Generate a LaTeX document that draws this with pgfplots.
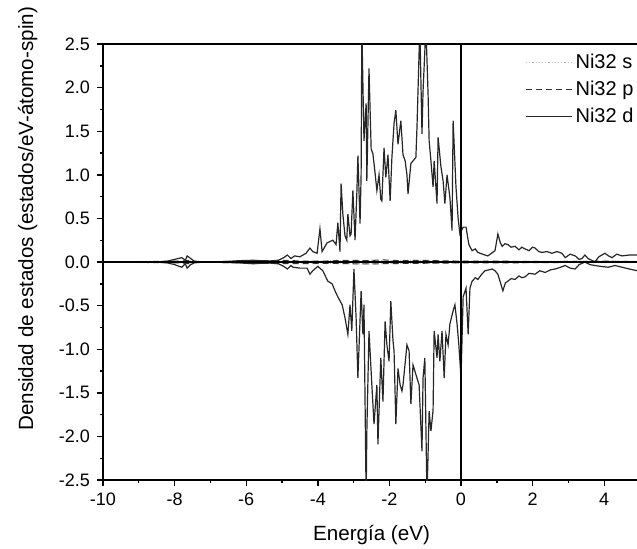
\documentclass[border=0pt]{standalone}
\usepackage{pgfplots}
\pgfplotsset{compat=1.18}
\usepackage{fontspec}
\setmainfont{Liberation Sans}

% spin up / spin down d states
\pgfplotstableread{
x y
-10 0
-8.5 0
-8.2 0.01
-8.0 0.03
-7.8 0.05
-7.7 0.02
-7.65 0.07
-7.55 0.04
-7.45 0.01
-7.2 0
-6.6 0.005
-6.2 0.015
-5.8 0.02
-5.4 0.01
-5.1 0.02
-4.95 0.05
-4.85 0.08
-4.75 0.04
-4.65 0.07
-4.50 0.06
-4.33 0.10
-4.22 0.16
-4.14 0.12
-4.02 0.10
-3.94 0.38
-3.88 0.12
-3.74 0.22
-3.58 0.25
-3.49 0.20
-3.44 0.45
-3.38 0.12
-3.35 0.90
-3.30 0.55
-3.24 0.30
-3.19 0.25
-3.16 0.55
-3.10 0.30
-3.07 0.32
-3.02 0.82
-2.96 0.25
-2.91 0.78
-2.88 1.22
-2.82 0.44
-2.79 1.00
-2.77 2.70
-2.71 1.39
-2.65 1.82
-2.63 0.93
-2.57 2.22
-2.51 1.30
-2.46 1.24
-2.40 1.02
-2.35 0.82
-2.29 1.00
-2.24 0.72
-2.21 0.70
-2.15 1.31
-2.10 0.97
-2.04 1.23
-1.98 0.70
-1.93 1.20
-1.87 1.59
-1.82 1.74
-1.76 1.35
-1.68 1.62
-1.62 1.23
-1.56 1.16
-1.51 1.00
-1.48 0.78
-1.40 1.13
-1.34 1.16
-1.26 1.20
-1.23 1.54
-1.15 2.70
-1.09 1.47
-1.06 1.96
-0.98 2.70
-0.92 1.93
-0.89 1.39
-0.84 1.16
-0.78 0.86
-0.75 1.16
-0.67 0.67
-0.64 1.43
-0.56 1.09
-0.50 0.93
-0.45 0.67
-0.39 1.00
-0.31 0.74
-0.25 0.36
-0.22 1.62
-0.14 0.86
-0.08 0.50
-0.03 0.32
0.06 0.40
0.14 0.40
0.22 0.20
0.31 0.13
0.40 0.15
0.47 0.11
0.60 0.09
0.75 0.07
0.85 0.10
0.95 0.13
1.03 0.32
1.10 0.22
1.15 0.18
1.23 0.21
1.31 0.20
1.40 0.17
1.51 0.18
1.62 0.14
1.70 0.17
1.79 0.15
1.90 0.13
2.00 0.17
2.07 0.16
2.17 0.12
2.26 0.11
2.40 0.12
2.54 0.10
2.68 0.12
2.82 0.10
2.91 0.05
3.05 0.09
3.19 0.07
3.30 0.03
3.38 0.04
3.46 0.08
3.55 0.04
3.65 0.02
3.74 0.00
3.85 0.06
4.02 0.10
4.12 0.07
4.22 0.05
4.35 0.09
4.50 0.07
4.70 0.08
4.92 0.08
5.0 0.07
}\dup

\pgfplotstableread{
x y
-10 0
-8.5 0
-8.2 -0.01
-8.0 -0.03
-7.8 -0.06
-7.7 -0.02
-7.65 -0.07
-7.55 -0.03
-7.45 -0.01
-7.2 0
-6.6 -0.005
-6.2 -0.01
-5.8 -0.02
-5.4 -0.01
-5.1 -0.02
-4.95 -0.05
-4.85 -0.08
-4.75 -0.04
-4.69 -0.06
-4.50 -0.07
-4.30 -0.07
-4.22 -0.14
-4.14 -0.10
-4.00 -0.05
-3.86 -0.10
-3.72 -0.22
-3.60 -0.25
-3.52 -0.33
-3.44 -0.40
-3.32 -0.49
-3.24 -0.64
-3.16 -0.83
-3.10 -0.49
-3.05 -0.79
-2.99 -0.08
-2.93 -0.64
-2.88 -1.33
-2.79 -0.33
-2.74 -0.83
-2.71 -0.49
-2.65 -2.70
-2.63 -1.94
-2.57 -0.79
-2.49 -1.41
-2.43 -1.86
-2.35 -1.41
-2.32 -2.09
-2.24 -1.10
-2.18 -1.60
-2.12 -0.68
-2.07 -0.95
-2.01 -1.14
-1.96 -0.45
-1.90 -0.90
-1.87 -1.02
-1.82 -1.86
-1.76 -1.22
-1.70 -1.41
-1.65 -1.48
-1.62 -1.41
-1.51 -0.95
-1.45 -1.02
-1.40 -1.63
-1.34 -1.18
-1.23 -1.33
-1.17 -1.41
-1.09 -2.17
-1.06 -1.33
-1.01 -1.10
-0.95 -2.70
-0.89 -1.71
-0.84 -1.94
-0.78 -1.70
-0.75 -0.79
-0.67 -1.10
-0.64 -0.83
-0.59 -1.14
-0.53 -0.79
-0.47 -1.33
-0.42 -0.83
-0.36 -0.95
-0.31 -0.71
-0.22 -0.56
-0.17 -0.49
-0.11 -0.71
-0.06 -0.95
0.00 -1.33
0.06 -0.40
0.14 -0.30
0.20 -0.83
0.25 -0.30
0.31 -0.22
0.40 -0.18
0.47 -0.20
0.58 -0.14
0.67 -0.10
0.78 -0.09
0.87 -0.08
0.95 -0.10
1.03 -0.14
1.17 -0.33
1.24 -0.24
1.31 -0.22
1.40 -0.19
1.51 -0.20
1.62 -0.16
1.70 -0.18
1.79 -0.17
1.90 -0.13
2.07 -0.14
2.20 -0.10
2.35 -0.12
2.50 -0.09
2.63 -0.08
2.78 -0.06
2.91 -0.04
3.05 -0.07
3.19 -0.08
3.30 -0.03
3.46 0.00
3.60 -0.03
3.74 -0.04
3.90 -0.05
4.11 -0.06
4.30 -0.04
4.50 -0.06
4.70 -0.08
4.92 -0.10
5.0 -0.10
}\ddown

\pgfplotstableread{
x y
-10 0
-7.8 0.01
-7.6 0.02
-7.4 0
-4.9 0.01
-4.7 0.01
-4.0 0.01
-3.5 0.02
-3.0 0.01
-2.5 0.02
-2.0 0.015
-1.5 0.02
-1.0 0.015
-0.5 0.01
0 0.01
1.0 0.01
2.0 0.005
3.0 0.01
4.0 0.01
5.0 0.005
}\sup

\pgfplotstableread{
x y
-10 0
-7.8 0.01
-7.6 0.02
-7.4 0
-4.8 0.02
-4.5 0.01
-3.8 0.01
-3.2 0.02
-2.6 0.015
-2.2 0.025
-1.7 0.015
-1.2 0.02
-0.6 0.015
0 0.01
1.0 0.01
2.5 0.005
4.0 0.01
5.0 0.005
}\pup

\pgfplotstableread{
x y
-10 0
-7.8 -0.01
-7.6 -0.02
-7.4 0
-4.9 -0.01
-4.0 -0.01
-3.0 -0.02
-2.5 -0.02
-2.0 -0.015
-1.0 -0.015
0 -0.01
1.0 -0.005
3.0 -0.005
5.0 -0.005
}\sdown

\pgfplotstableread{
x y
-10 0
-7.8 -0.01
-7.6 -0.02
-7.4 0
-4.8 -0.02
-3.8 -0.015
-3.0 -0.02
-2.2 -0.02
-1.2 -0.015
0 -0.01
1.2 -0.01
3.0 -0.005
5.0 -0.005
}\pdown

\begin{document}
\begin{tikzpicture}
\begin{axis}[
scale only axis,width=268.5pt,height=218pt,
xmin=-10,xmax=5,ymin=-2.5,ymax=2.5,
xtick={-10,-8,...,4},minor xtick={-9,-7,...,5},
ytick={-2.5,-2,...,2.5},minor ytick={-2.25,-1.75,...,2.25},
xtick pos=left,ytick pos=left,tick align=outside,
major tick length=3pt,minor tick length=1.6pt,
axis line style={line width=0.9pt},
every tick/.style={black,line width=0.7pt},
/pgf/number format/assume math mode=true,
/pgf/number format/.cd,fixed,fixed zerofill,precision=1,/pgfplots/.cd,
xticklabel style={/pgf/number format/precision=0},
tick label style={font=\fontsize{9}{10}\selectfont},
xlabel={Energía (eV)},
ylabel={Densidad de estados (estados/eV-átomo-spin)},
label style={font=\fontsize{10.3}{12}\selectfont},
xlabel style={at={(axis description cs:0.5,-0.138)},anchor=base},
ylabel style={at={(axis description cs:-0.130,0.599)},anchor=base},
legend style={at={(axis cs:1.62,2.47)},anchor=north west,draw=none,fill=none,
  font=\fontsize{10}{12}\selectfont,row sep=1.7pt,
  nodes={inner sep=1.5pt}},
legend cell align=left,
legend image code/.code={\draw[#1] (0pt,0pt) -- (23pt,0pt);},
]
\addplot[gray!50,densely dotted,line width=0.6pt] table {\sup};
\addlegendentry{Ni32 s}
\addplot[black!80,densely dashed,line width=0.5pt] table {\pup};
\addlegendentry{Ni32 p}
\addplot[black!85,line width=0.6pt] table {\dup};
\addlegendentry{Ni32 d}
\addplot[gray!50,densely dotted,line width=0.6pt,forget plot] table {\sdown};
\addplot[black!80,densely dashed,line width=0.5pt,forget plot] table {\pdown};
\addplot[black!85,line width=0.6pt,forget plot] table {\ddown};
\addplot[black,line width=0.9pt,forget plot] coordinates {(-10,0) (5,0)};
\addplot[black,line width=0.9pt,forget plot] coordinates {(0,-2.5) (0,2.5)};
\end{axis}
\pgfresetboundingbox
\path[use as bounding box] (-51.5pt,-34pt) rectangle (267pt,240pt);
\end{tikzpicture}
\end{document}
